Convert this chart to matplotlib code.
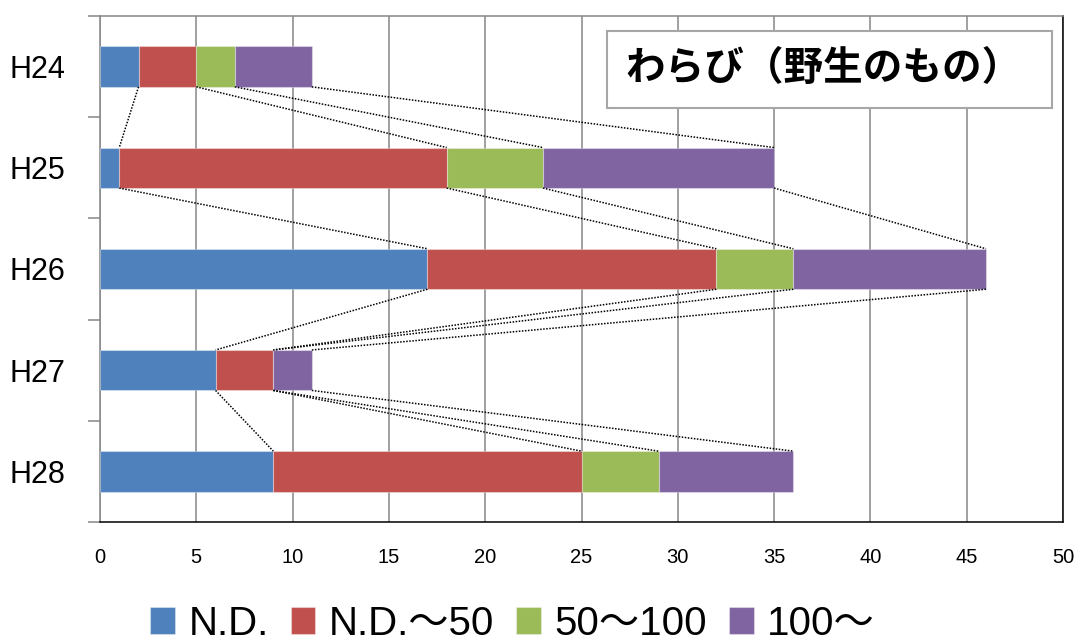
import matplotlib
matplotlib.use("Agg")
import matplotlib.pyplot as plt
from matplotlib.patches import Rectangle
import numpy as np

plt.rcParams['font.family'] = ['Liberation Sans', 'Noto Sans CJK JP']

years = ["H24", "H25", "H26", "H27", "H28"]
series_names = ["N.D.", "N.D.～50", "50～100", "100～"]
nd = [2, 1, 17, 6, 9]
nd_50 = [3, 17, 15, 3, 16]
r50_100 = [2, 5, 4, 0, 4]
over_100 = [4, 12, 10, 2, 7]
colors = ["#4F81BD", "#C0504D", "#9BBB59", "#8064A2"]
title = "わらび（野生のもの）"

series = [nd, nd_50, r50_100, over_100]
bar_h = 0.4

fig = plt.figure(figsize=(10.81, 6.41), dpi=100)
ax = fig.add_axes([100 / 1081, 1 - 522 / 641, 963 / 1081, 506 / 641])

y = np.arange(len(years))
left = np.zeros(len(years))
ends = []
for vals, name, c in zip(series, series_names, colors):
    vals = np.array(vals, dtype=float)
    ax.barh(y, vals, left=left, height=bar_h, color=c, label=name,
            edgecolor=(1, 1, 1, 0.35), lw=0.8, zorder=3)
    left = left + vals
    ends.append(left.copy())

# dotted series lines joining the segment ends of neighbouring bars
for i in range(len(years) - 1):
    for e in ends:
        ax.plot([e[i], e[i + 1]], [y[i] + bar_h / 2, y[i + 1] - bar_h / 2],
                color="black", lw=1.1, linestyle=(0, (1, 1)), zorder=4)

ax.set_xlim(0, 50)
ax.set_ylim(len(years) - 0.5, -0.5)
ax.set_xticks(np.arange(0, 51, 5))
ax.set_yticks(y)
ax.set_yticklabels(years, fontsize=22)
ax.set_yticks(np.arange(-0.5, len(years), 1), minor=True)
ax.tick_params(axis="y", which="major", length=0, pad=25)
ax.tick_params(axis="y", which="minor", length=9, width=1.1, color="#868686")
ax.tick_params(axis="x", length=0, pad=19, labelsize=14.5)
ax.grid(axis="x", color="#868686", lw=1.1, zorder=0)

for side in ["left", "top"]:
    ax.spines[side].set_color("#868686")
    ax.spines[side].set_linewidth(1.1)
for side in ["bottom", "right"]:
    ax.spines[side].set_color("black")
    ax.spines[side].set_linewidth(1.1)

fig.patches.append(Rectangle((607 / 1081, 1 - 108 / 641), 445 / 1081, 77 / 641,
                             transform=fig.transFigure, facecolor="white",
                             edgecolor="#a6a6a6", lw=1.5, zorder=2))
fig.text(0.762, 1 - 69 / 641, title, fontsize=28.5, fontweight="bold",
         family="Noto Sans CJK JP", ha="center", va="center", zorder=3)

fig.legend(loc="center", bbox_to_anchor=(0.474, 0.027), ncol=4, frameon=False,
           fontsize=29, handlelength=0.62, handleheight=0.62,
           handletextpad=0.33, columnspacing=0.54, borderpad=0)

fig.savefig("out.png", dpi=100)
